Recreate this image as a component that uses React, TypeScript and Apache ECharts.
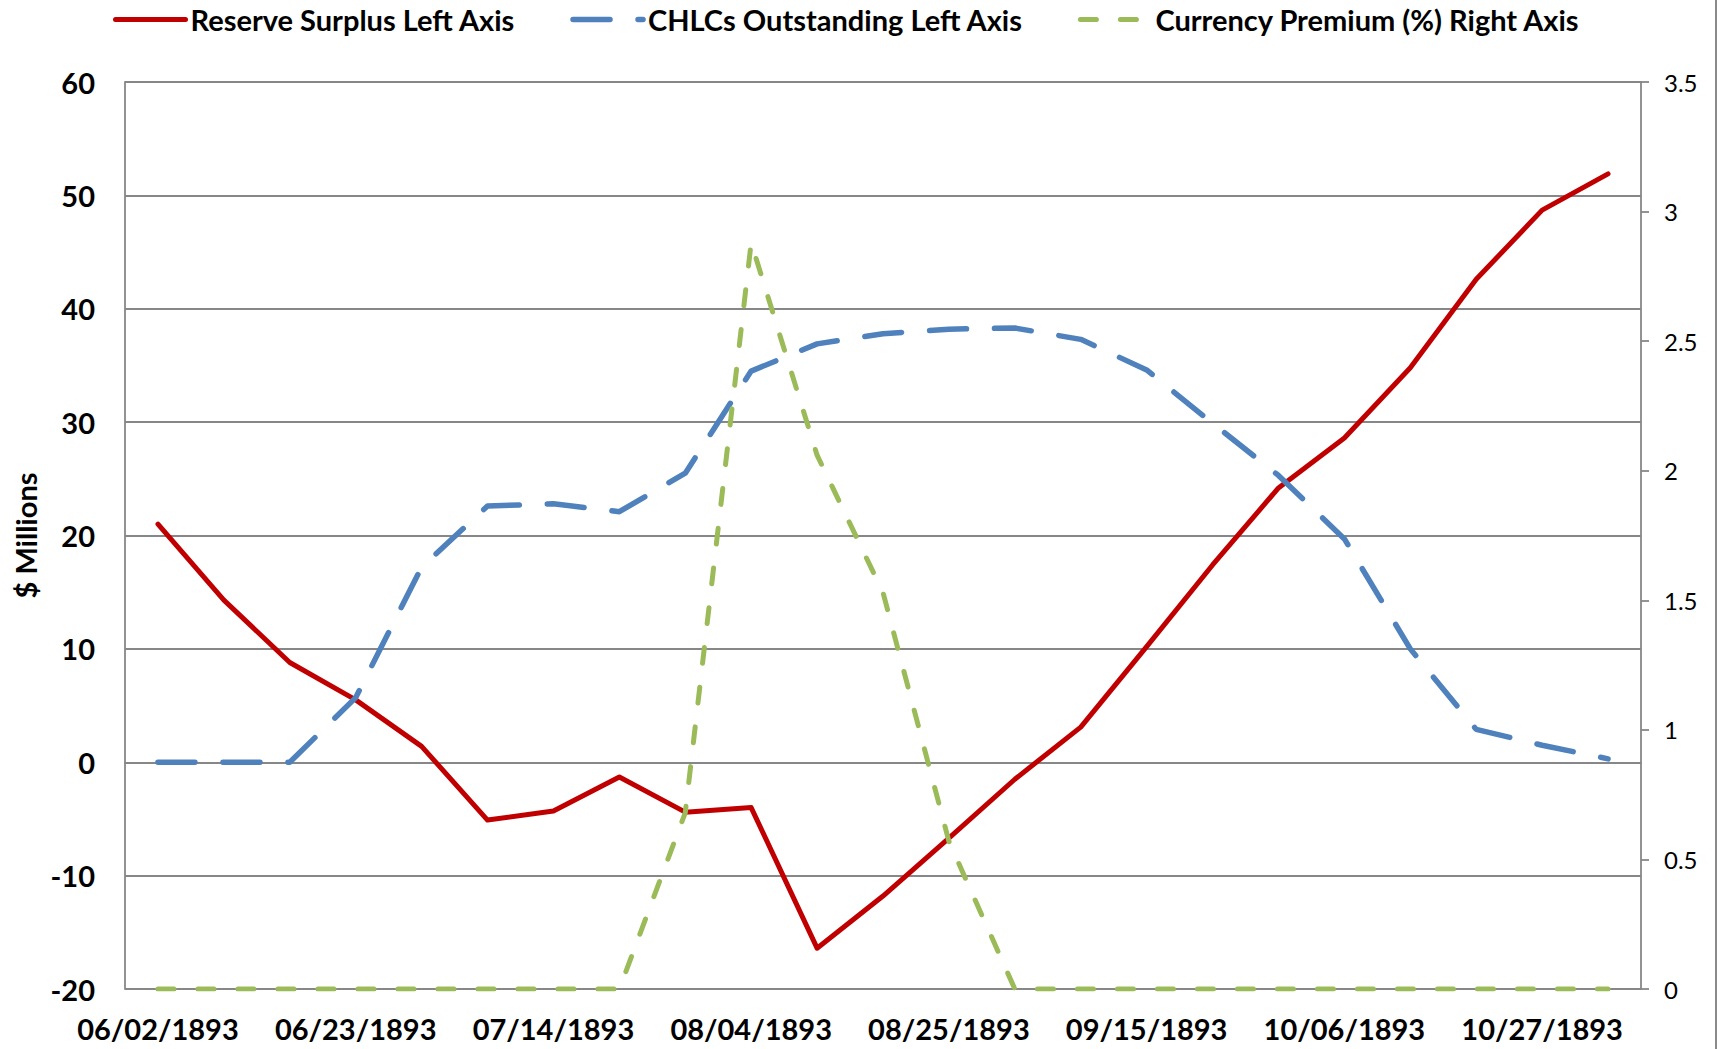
import React, { useEffect, useRef } from 'react';
import * as echarts from 'echarts';

const FONT = 'Lato, "Liberation Sans", sans-serif';

const weeks = [
  '06/02/1893', '06/09/1893', '06/16/1893', '06/23/1893', '06/30/1893', '07/07/1893',
  '07/14/1893', '07/21/1893', '07/28/1893', '08/04/1893', '08/11/1893', '08/18/1893',
  '08/25/1893', '09/01/1893', '09/08/1893', '09/15/1893', '09/22/1893', '09/29/1893',
  '10/06/1893', '10/13/1893', '10/20/1893', '10/27/1893', '11/03/1893',
];

const reserveSurplus = [
  21.0, 14.3, 8.8, 5.5, 1.4, -5.1, -4.3, -1.3, -4.4, -4.0, -16.4, -11.8,
  -6.7, -1.5, 3.1, 10.2, 17.4, 24.2, 28.6, 34.8, 42.6, 48.7, 51.9,
];

const chlcsOutstanding = [
  0, 0, 0, 5.7, 17.2, 22.6, 22.8, 22.1, 25.5, 34.5, 36.9, 37.8,
  38.2, 38.3, 37.3, 34.6, 29.9, 25.3, 19.7, 10.0, 2.9, 1.5, 0.3,
];

const currencyPremium = [
  0, 0, 0, 0, 0, 0, 0, 0, 0.68, 2.88, 2.06, 1.53,
  0.57, 0, 0, 0, 0, 0, 0, 0, 0, 0, 0,
];

const seriesNames = [
  'Reserve Surplus Left Axis',
  'CHLCs Outstanding Left Axis',
  'Currency Premium (%) Right Axis',
];

const leftAxis = { min: -20, max: 60, interval: 10 };
const rightAxis = { min: 0, max: 3.5, interval: 0.5 };

const GRID_COLOR = '#878787';

export default function App() {
  const ref = useRef<HTMLDivElement>(null);

  useEffect(() => {
    const chart = echarts.init(ref.current!, null, { renderer: 'svg' });
    chart.setOption({
      animation: false,
      backgroundColor: '#ffffff',
      textStyle: { fontFamily: FONT },
      grid: { left: 125, right: 79, top: 82, bottom: 60, containLabel: false },
      legend: {
        data: seriesNames,
        left: 113,
        top: 5,
        padding: 0,
        itemWidth: 70,
        itemHeight: 14,
        itemGap: 55,
        itemStyle: { opacity: 0 },
        lineStyle: { width: 'inherit' },
        textStyle: { fontFamily: FONT, fontWeight: 'bold', fontSize: 29, color: '#000' },
      },
      xAxis: {
        type: 'category',
        data: weeks,
        boundaryGap: true,
        axisLine: { show: true, lineStyle: { color: GRID_COLOR, width: 1.8 } },
        axisTick: { show: false },
        axisLabel: {
          interval: 2,
          margin: 25,
          fontFamily: FONT,
          fontWeight: 'bold',
          fontSize: 29,
          color: '#000',
        },
        splitLine: { show: false },
      },
      yAxis: [
        {
          type: 'value',
          min: leftAxis.min,
          max: leftAxis.max,
          interval: leftAxis.interval,
          name: '$ Millions',
          nameLocation: 'middle',
          nameRotate: 90,
          nameGap: 84,
          nameTextStyle: { fontFamily: FONT, fontWeight: 'bold', fontSize: 29, color: '#000' },
          axisLine: { show: true, lineStyle: { color: GRID_COLOR, width: 1.8 } },
          axisTick: { show: false },
          axisLabel: { margin: 30, fontFamily: FONT, fontWeight: 'bold', fontSize: 29, color: '#000' },
          splitLine: { show: true, lineStyle: { color: GRID_COLOR, width: 1.8 } },
        },
        {
          type: 'value',
          min: rightAxis.min,
          max: rightAxis.max,
          interval: rightAxis.interval,
          position: 'right',
          axisLine: { show: true, lineStyle: { color: GRID_COLOR, width: 1.8 } },
          axisTick: { show: true, inside: false, length: 8, lineStyle: { color: GRID_COLOR, width: 1.8 } },
          axisLabel: { margin: 23, fontFamily: FONT, fontSize: 24, color: '#000' },
          splitLine: { show: false },
        },
      ],
      series: [
        {
          name: seriesNames[0],
          type: 'line',
          data: reserveSurplus,
          yAxisIndex: 0,
          symbol: 'none',
          itemStyle: { color: '#C00000' },
          lineStyle: { color: '#C00000', width: 5, type: 'solid', cap: 'round', join: 'round' },
        },
        {
          name: seriesNames[1],
          type: 'line',
          data: chlcsOutstanding,
          yAxisIndex: 0,
          symbol: 'none',
          itemStyle: { color: '#4F81BD' },
          lineStyle: { color: '#4F81BD', width: 5.5, type: [37, 28], cap: 'round', join: 'round' },
        },
        {
          name: seriesNames[2],
          type: 'line',
          data: currencyPremium,
          yAxisIndex: 1,
          symbol: 'none',
          itemStyle: { color: '#9BBB59' },
          lineStyle: { color: '#9BBB59', width: 5, type: [16, 24], cap: 'round', join: 'round' },
        },
      ],
      graphic: [
        {
          type: 'line',
          shape: { x1: 1716, y1: 0, x2: 1716, y2: 1049 },
          style: { stroke: '#8a8a8a', lineWidth: 2 },
          silent: true,
        },
      ],
    });
    return () => chart.dispose();
  }, []);

  return (
    <div
      ref={ref}
      style={{ position: 'fixed', left: 0, top: 0, width: 1720, height: 1049, background: '#fff' }}
    />
  );
}
